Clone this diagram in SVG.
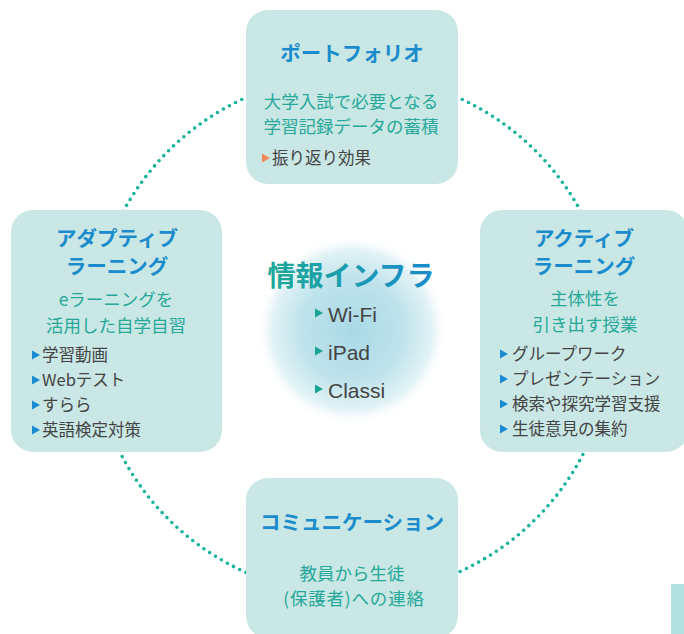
<svg xmlns="http://www.w3.org/2000/svg" xmlns:xlink="http://www.w3.org/1999/xlink" width="684" height="634" viewBox="0 0 684 634">
<style>
.box{fill:#c9e7e4}
.title{font-family:"Noto Sans CJK JP","Noto Sans",sans-serif;font-weight:bold;font-size:20.5px;fill:#1a8bcc;text-anchor:middle}
.sub{font-family:"Noto Sans CJK JP","Noto Sans",sans-serif;font-size:17.5px;fill:#27a89a;text-anchor:middle}
.li{font-family:"Noto Sans CJK JP","Noto Sans",sans-serif;font-size:16.5px;fill:#444}
.cli{font-family:"Liberation Sans","Noto Sans CJK JP",sans-serif;font-size:21px;fill:#444}
.ctitle{font-family:"Noto Sans CJK JP","Noto Sans",sans-serif;font-weight:bold;font-size:28px;text-anchor:middle}
.dots{fill:none;stroke:#14b39c;stroke-width:3.6;stroke-linecap:round;stroke-dasharray:0 6.9}
.bb{fill:#1a8bd0}
.bo{fill:#f0895a}
.bt{fill:#1aa394}
</style>
<defs>
<radialGradient id="glow" cx="0.5" cy="0.5" r="0.5">
<stop offset="0" stop-color="#a9d9e5"/>
<stop offset="0.55" stop-color="#bfe3ec"/>
<stop offset="0.85" stop-color="#e3f3f6"/>
<stop offset="1" stop-color="#ffffff" stop-opacity="0"/>
</radialGradient>
<linearGradient id="ctg" x1="0" y1="0" x2="1" y2="0">
<stop offset="0" stop-color="#1ea79a"/>
<stop offset="0.35" stop-color="#1aa0a8"/>
<stop offset="1" stop-color="#1a8bcc"/>
</linearGradient>
<path id="tri" d="M0,-4.5 L8,0 L0,4.5 Z"/>
</defs>
<rect width="684" height="634" fill="#ffffff"/>
<g id="connectors">
<circle class="dots" cx="352" cy="335" r="260"/>
</g>
<g id="center">
<circle cx="352" cy="330" r="95" fill="url(#glow)"/>
<text class="ctitle" x="351" y="286" fill="url(#ctg)">情報インフラ</text>
<use xlink:href="#tri" class="bt" x="315" y="313"/>
<text class="cli" x="328" y="322">Wi-Fi</text>
<use xlink:href="#tri" class="bt" x="315" y="351"/>
<text class="cli" x="328" y="360">iPad</text>
<use xlink:href="#tri" class="bt" x="315" y="389"/>
<text class="cli" x="328" y="398">Classi</text>
</g>
<g id="portfolio">
<rect class="box" x="246" y="10" width="212" height="174" rx="22"/>
<text class="title" x="352" y="61">ポートフォリオ</text>
<text class="sub" x="351" y="108">大学入試で必要となる</text>
<text class="sub" x="351" y="133">学習記録データの蓄積</text>
<use xlink:href="#tri" class="bo" x="262" y="158"/>
<text class="li" x="272" y="164">振り返り効果</text>
</g>
<g id="adaptive">
<rect class="box" x="11" y="210" width="211" height="242" rx="22"/>
<text class="title" x="117" y="246">アダプティブ</text>
<text class="title" x="117" y="274">ラーニング</text>
<text class="sub" x="116" y="306">eラーニングを</text>
<text class="sub" x="116" y="332">活用した自学自習</text>
<use xlink:href="#tri" class="bb" x="32" y="355"/>
<text class="li" x="42" y="361">学習動画</text>
<use xlink:href="#tri" class="bb" x="32" y="380"/>
<text class="li" x="42" y="386">Webテスト</text>
<use xlink:href="#tri" class="bb" x="32" y="405"/>
<text class="li" x="42" y="411">すらら</text>
<use xlink:href="#tri" class="bb" x="32" y="430"/>
<text class="li" x="42" y="436">英語検定対策</text>
</g>
<g id="active">
<rect class="box" x="480" y="210" width="208" height="242" rx="22"/>
<text class="title" x="584" y="246">アクティブ</text>
<text class="title" x="584" y="274">ラーニング</text>
<text class="sub" x="585" y="305">主体性を</text>
<text class="sub" x="585" y="331">引き出す授業</text>
<use xlink:href="#tri" class="bb" x="500" y="354"/>
<text class="li" x="512" y="360">グループワーク</text>
<use xlink:href="#tri" class="bb" x="500" y="379"/>
<text class="li" x="512" y="385">プレゼンテーション</text>
<use xlink:href="#tri" class="bb" x="500" y="404"/>
<text class="li" x="512" y="410">検索や探究学習支援</text>
<use xlink:href="#tri" class="bb" x="500" y="429"/>
<text class="li" x="512" y="435">生徒意見の集約</text>
</g>
<g id="communication">
<rect class="box" x="246" y="478" width="212" height="160" rx="22"/>
<text class="title" x="352" y="530">コミュニケーション</text>
<text class="sub" x="352" y="580">教員から生徒</text>
<text class="sub" x="354" y="605" letter-spacing="0.8">(保護者)への連絡</text>
</g>
<rect x="671" y="584" width="13" height="50" fill="#b3e1e2"/>
</svg>
